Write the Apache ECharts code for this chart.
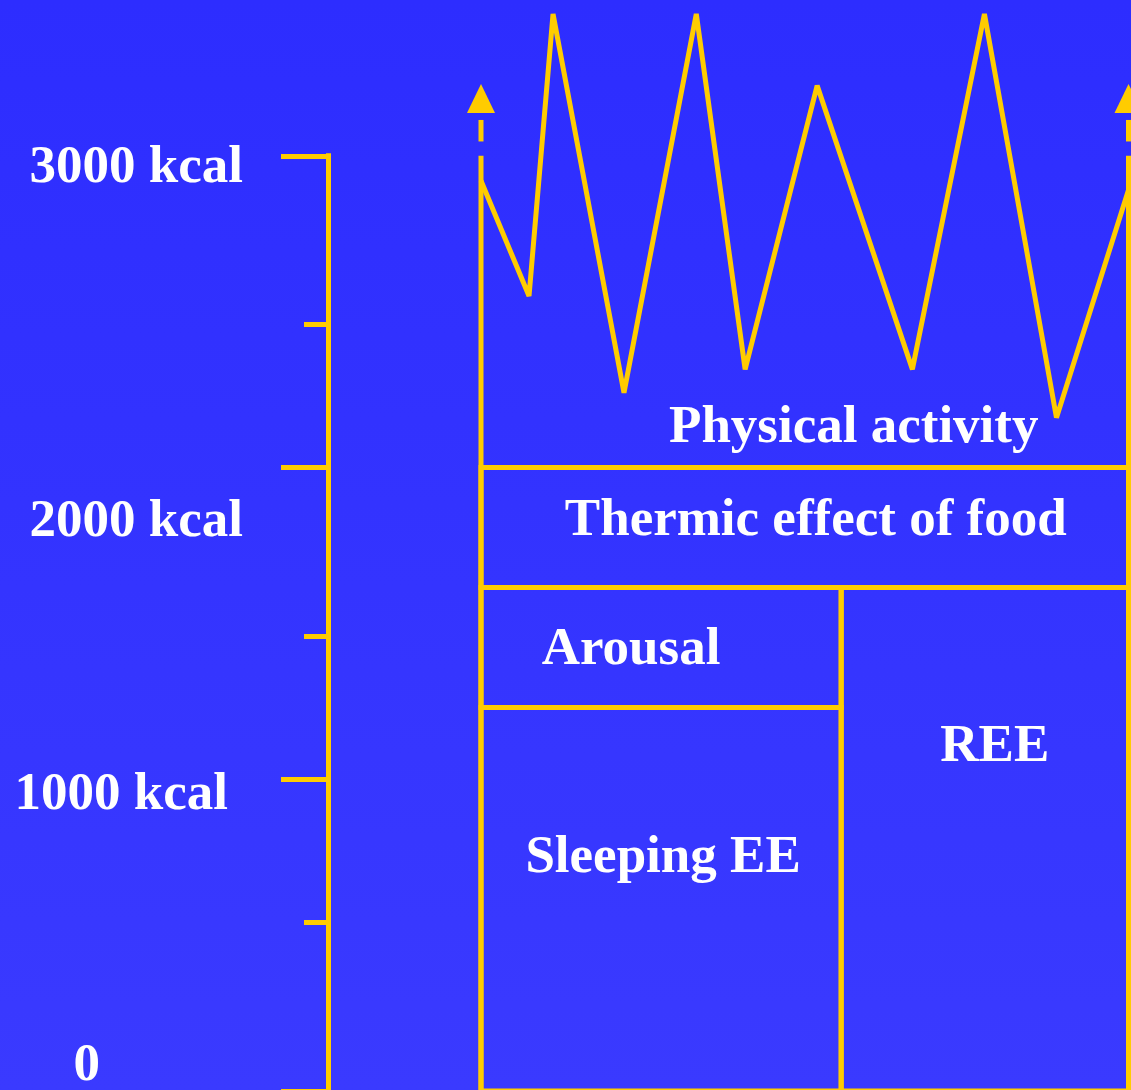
<!DOCTYPE html>
<html>
<head>
<meta charset="utf-8">
<title>Components of daily energy expenditure</title>
<script src="https://cdn.jsdelivr.net/npm/echarts@6/dist/echarts.min.js"></script>
<style>
  html, body { margin: 0; padding: 0; background: #3434ff; }
  #chart { width: 1131px; height: 1090px; }
</style>
</head>
<body>
<div id="chart"></div>
<script>
// ---- values ---------------------------------------------------------------
// energy axis (kcal)
const tickValues = [0, 1000, 2000, 3000];
const tickLabels = ['0', '1000 kcal', '2000 kcal', '3000 kcal'];
const minorTickValues = [540, 1460, 2460];

// stacked components of one day (x = hour of the day, y = kcal)
const layerNames     = ['Physical activity', 'Thermic effect of food', 'Arousal', 'Sleeping EE', 'REE'];
const layerFromKcal  = [2000, 1615, 1230, 0, 0];
const layerToKcal    = [3000, 2000, 1615, 1230, 1615];
const layerFromHour  = [0, 0, 0, 0, 13.35];
const layerToHour    = [24, 24, 13.35, 13.35, 24];

// physical activity trace over the day
const activityHours = [0, 1.78, 2.67, 5.30, 7.98, 9.79, 12.46, 15.99, 18.66, 21.33, 24];
const activityKcal  = [2920, 2550, 3455, 2240, 3455, 2315, 3225, 2315, 3455, 2160, 2890];

// start / end of the day, continuing upwards
const edgeHours = [0, 24];
const edgeTopKcal = 3000;
const edgeDashKcal = [3046, 3115];
const arrowKcal = 3184;

// ---- styles -----------------------------------------------------------------
const YELLOW = '#ffcc00';
const LINE_W = 5;
const FONT = '"Liberation Serif", "Times New Roman", Times, serif';
const FONT_SIZE = 53;

// pixel nudges of the text inside each block [dx, dy]
const LABEL_SHIFT = {
  'Physical activity': [49, 117],
  'Thermic effect of food': [11, -6],
  'Arousal': [-30, 3],
  'Sleeping EE': [2, -41],
  'REE': [10, -92]
};
const OPEN_TOP = { 'Physical activity': true };

// padding of each axis label [top, right, bottom, left]
const TICK_LABEL_PAD = {
  0: [0, 143, 50, 0],
  1000: [32, 15, 0, 0],
  2000: [110, 0, 0, 0],
  3000: [26, 0, 0, 0]
};

// ---- chart ------------------------------------------------------------------
const chart = echarts.init(document.getElementById('chart'), null, { renderer: 'canvas' });

const rich = {};
tickValues.forEach(v => {
  rich['t' + v] = {
    color: '#ffffff',
    fontFamily: FONT,
    fontWeight: 'bold',
    fontSize: FONT_SIZE,
    padding: TICK_LABEL_PAD[v]
  };
});

const layerData = layerNames.map((n, i) => [layerFromHour[i], layerToHour[i], layerFromKcal[i], layerToKcal[i]]);

const edgeSeries = [];
edgeHours.forEach(h => {
  edgeSeries.push({
    type: 'line', silent: true, clip: false, symbol: 'none', showSymbol: false, z: 3,
    lineStyle: { color: YELLOW, width: LINE_W, cap: 'butt' },
    data: [[h, 0], [h, edgeTopKcal]]
  });
  edgeSeries.push({
    type: 'line', silent: true, clip: false, symbol: 'none', showSymbol: false, z: 3,
    lineStyle: { color: YELLOW, width: LINE_W, cap: 'butt' },
    data: [[h, edgeDashKcal[0]], [h, edgeDashKcal[1]]]
  });
});

const option = {
  animation: false,
  backgroundColor: {
    type: 'linear', x: 0, y: 0, x2: 0, y2: 1,
    colorStops: [
      { offset: 0, color: '#2d2dff' },
      { offset: 1, color: '#3a3aff' }
    ]
  },
  grid: { left: 481, right: 2.5, top: 155.8, bottom: -1, outerBoundsMode: 'none', containLabel: false },
  xAxis: { type: 'value', min: 0, max: 24, show: false },
  yAxis: [
    {
      type: 'value', min: 0, max: 3000, interval: 1000,
      position: 'left', offset: 153,
      axisLine: { show: true, onZero: false, lineStyle: { color: YELLOW, width: LINE_W, cap: 'square' } },
      axisTick: { show: true, length: 47, lineStyle: { color: YELLOW, width: LINE_W } },
      splitLine: { show: false },
      axisLabel: {
        show: true, margin: 85, align: 'right', verticalAlign: 'middle',
        formatter: v => '{t' + v + '|' + tickLabels[tickValues.indexOf(v)] + '}',
        rich: rich
      }
    },
    {
      type: 'value', min: 0, max: 3000,
      position: 'left', offset: 153,
      axisLine: { show: false, onZero: false },
      axisTick: { show: true, length: 24, customValues: minorTickValues, lineStyle: { color: YELLOW, width: LINE_W } },
      axisLabel: { show: false },
      splitLine: { show: false }
    }
  ],
  series: [
    {
      type: 'custom', silent: true, clip: false, z: 2,
      data: layerData,
      renderItem: (params, api) => {
        const name = layerNames[params.dataIndex];
        const a = api.coord([api.value(0), api.value(3)]);
        const b = api.coord([api.value(1), api.value(2)]);
        const shift = LABEL_SHIFT[name] || [0, 0];
        const children = [];
        if (!OPEN_TOP[name]) {
          children.push({
            type: 'rect',
            shape: { x: a[0], y: a[1], width: b[0] - a[0], height: b[1] - a[1] },
            style: { fill: 'none', stroke: YELLOW, lineWidth: LINE_W }
          });
        }
        children.push({
          type: 'text',
          z2: 10,
          style: {
            text: name,
            x: (a[0] + b[0]) / 2 + shift[0],
            y: (a[1] + b[1]) / 2 + shift[1],
            align: 'center',
            verticalAlign: 'middle',
            fill: '#ffffff',
            font: 'bold ' + FONT_SIZE + 'px ' + FONT
          }
        });
        return { type: 'group', children: children };
      }
    },
    ...edgeSeries,
    {
      type: 'line', silent: true, clip: false, symbol: 'none', showSymbol: false, z: 4,
      lineStyle: { color: YELLOW, width: LINE_W, join: 'bevel' },
      data: activityHours.map((h, i) => [h, activityKcal[i]])
    },
    {
      type: 'scatter', silent: true, clip: false, z: 4,
      symbol: 'triangle', symbolSize: [28, 29],
      itemStyle: { color: YELLOW, opacity: 1 },
      data: edgeHours.map(h => [h, arrowKcal])
    }
  ]
};

chart.setOption(option);
</script>
</body>
</html>
